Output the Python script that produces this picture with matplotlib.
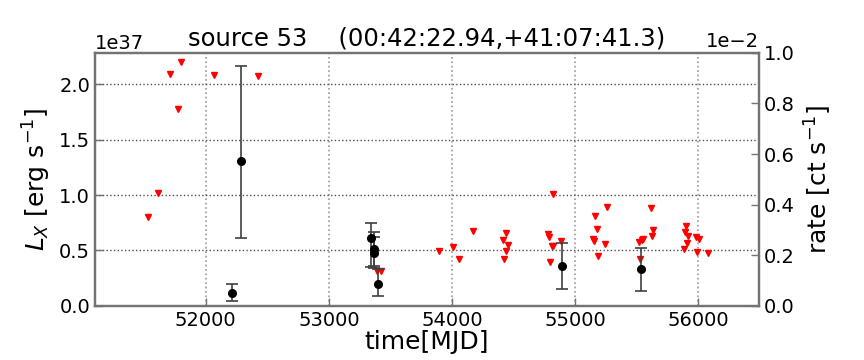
import matplotlib
matplotlib.use("Agg")
import matplotlib.pyplot as plt
import numpy as np

# Detections (MJD, L_X in 1e37 erg/s, upper and lower error-bar ends)
det_mjd = [52211, 52290, 53344, 53366, 53368, 53398, 54894, 55537]
det_L = [0.118, 1.31, 0.615, 0.51, 0.48, 0.20, 0.356, 0.329]
det_top = [0.193, 2.17, 0.745, 0.664, 0.62, 0.33, 0.564, 0.524]
det_bot = [0.045, 0.615, 0.35, 0.36, 0.34, 0.088, 0.148, 0.133]

# Upper limits (MJD, L_X in 1e37 erg/s)
ul_mjd = [51531, 51610, 51713, 51772, 51797, 52068, 52425, 53395, 53422,
          53892, 54011, 54055, 54171, 54412, 54423, 54436, 54442, 54453,
          54778, 54791, 54799, 54815, 54823, 54821, 54884, 55144, 55155,
          55163, 55176, 55184, 55247, 55258, 55520, 55528, 55542, 55550,
          55618, 55624, 55634, 55884, 55892, 55900, 55911, 55919, 55981,
          55992, 56004, 56084]
ul_L = [0.802, 1.022, 2.095, 1.778, 2.206, 2.083, 2.074, 0.31, 0.315,
        0.495, 0.528, 0.42, 0.675, 0.594, 0.42, 0.492, 0.657, 0.546,
        0.651, 0.621, 0.392, 0.54, 0.54, 1.013, 0.582, 0.603, 0.585,
        0.808, 0.691, 0.447, 0.558, 0.89, 0.573, 0.422, 0.597, 0.60,
        0.88, 0.63, 0.684, 0.51, 0.666, 0.72, 0.57, 0.63, 0.621,
        0.486, 0.603, 0.476]

scale = 1e37
xticks = [52000, 53000, 54000, 55000, 56000]
yticks = [0.0, 0.5, 1.0, 1.5, 2.0]
rticks = [0.0, 0.002, 0.004, 0.006, 0.008, 0.010]

plt.rcParams['font.size'] = 14
fig = plt.figure(figsize=(8.64, 3.6), dpi=100)
ax = fig.add_axes([0.110, 0.151, 0.7685, 0.702])

det_L_a = np.array(det_L) * scale
yerr = np.array([np.array(det_L) - np.array(det_bot),
                 np.array(det_top) - np.array(det_L)]) * scale

ax.plot(ul_mjd, np.array(ul_L) * scale, linestyle='none', marker='v',
        color='red', markeredgecolor='red', markersize=5, zorder=3)
ax.errorbar(det_mjd, det_L_a, yerr=yerr, fmt='o', color='black',
            ecolor='0.25', elinewidth=1.2, capsize=4, capthick=1.2,
            markersize=5.5, zorder=4)

ax.set_xlim(51100, 56495)
ax.set_ylim(0, 2.285 * scale)
ax.set_xticks(xticks)
ax.set_yticks(np.array(yticks) * scale)
ax.xaxis.grid(True, color='0.6', linestyle=':', linewidth=1.2)
ax.yaxis.grid(True, color='0.3', linestyle=':', linewidth=1.0)
ax.set_axisbelow(True)
ax.tick_params(direction='in', length=6, width=1, color='0.45', labelsize=14)
ax.tick_params(axis='y', right=False)
for s in ax.spines.values():
    s.set_color('0.45')
    s.set_linewidth(1.6)
ax.yaxis.get_offset_text().set_fontsize(14)

ax.set_xlabel('time[MJD]', fontsize=18, labelpad=0)
ax.set_ylabel(r'$L_X$ [erg s$^{-1}$]', fontsize=18, labelpad=4)
ax.set_title('source 53    (00:42:22.94,+41:07:41.3)', fontsize=17.5, pad=5)

ax2 = ax.twinx()
ax2.set_ylim(0, 0.01)
ax2.set_yticks(rticks)
ax2.ticklabel_format(axis='y', style='sci', scilimits=(0, 0))
ax2.yaxis.get_offset_text().set_visible(False)
ax2.tick_params(direction='in', length=6, width=1, color='0.45', labelsize=14)
for s in ax2.spines.values():
    s.set_color('0.45')
    s.set_linewidth(1.6)
ax2.set_ylabel(r'rate [ct s$^{-1}$]', fontsize=18, labelpad=6)
ax2.text(1.0, 1.008, '1e\u22122', transform=ax2.transAxes, ha='right',
         va='bottom', fontsize=14)

fig.savefig('out.png', dpi=100, facecolor='white')
